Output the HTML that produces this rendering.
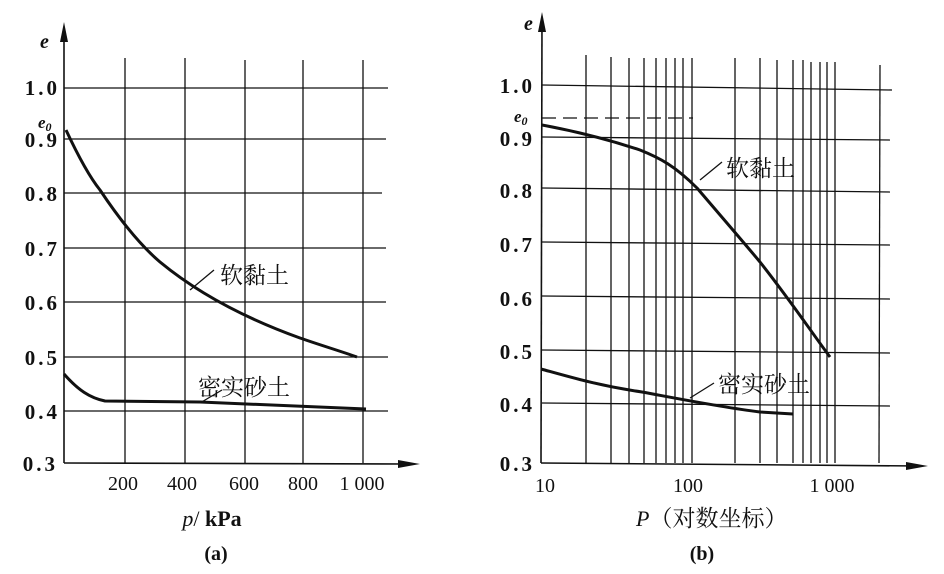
<!DOCTYPE html>
<html><head><meta charset="utf-8"><style>
html,body{margin:0;padding:0;background:#fff;}
svg text{font-family:"Liberation Serif","Noto Serif CJK SC",serif;fill:#111;}
.t{font-size:21px;font-weight:bold;letter-spacing:3px;}
.c{font-family:"Liberation Serif","Noto Serif CJK SC",serif;font-size:23px;font-weight:normal;}
</style></head><body>
<svg width="944" height="569" viewBox="0 0 944 569" xmlns="http://www.w3.org/2000/svg">
<g stroke="#111" stroke-width="1.3" fill="none">
<line x1="64" y1="88" x2="388" y2="88"/>
<line x1="64" y1="139" x2="386" y2="139"/>
<line x1="64" y1="193" x2="382" y2="193"/>
<line x1="64" y1="248" x2="386" y2="248"/>
<line x1="64" y1="302" x2="386" y2="302"/>
<line x1="64" y1="357" x2="388" y2="357"/>
<line x1="64" y1="411" x2="388" y2="411"/>
<line x1="125" y1="58" x2="125" y2="463"/>
<line x1="185" y1="58" x2="185" y2="463"/>
<line x1="245" y1="60" x2="245" y2="463"/>
<line x1="303" y1="60" x2="303" y2="463"/>
<line x1="363" y1="60" x2="363" y2="463"/>
<line x1="64" y1="28" x2="64" y2="463" stroke-width="1.6"/>
<line x1="64" y1="463" x2="412" y2="464" stroke-width="1.6"/>
</g>
<polygon points="64,22 60,42 68,42" fill="#111"/>
<polygon points="420,464 398,460 398,468" fill="#111"/>
<g stroke="#111" stroke-width="3" fill="none">
<path d="M66,130 C80,160 92,180 100,190 C120,220 140,245 160,262 C200,295 250,320 300,338 C320,345 340,351 357,357"/>
<path d="M64,374 C78,390 90,398 105,401 L200,402 L366,409"/>
</g>
<line x1="190" y1="290" x2="214" y2="270" stroke="#111" stroke-width="1.3"/>
<line x1="200" y1="403" x2="222" y2="390" stroke="#111" stroke-width="1.3"/>
<text x="220" y="283" class="c">软黏土</text>
<text x="198" y="395" class="c">密实砂土</text>
<g class="t" text-anchor="end">
<text x="60" y="95">1.0</text><text x="60" y="147">0.9</text><text x="60" y="201">0.8</text>
<text x="60" y="256">0.7</text><text x="60" y="310">0.6</text><text x="60" y="365">0.5</text>
<text x="60" y="419">0.4</text><text x="58" y="471">0.3</text>
</g>
<text x="40" y="48" font-style="italic" font-weight="bold" font-size="20">e</text>
<text x="38" y="128" font-style="italic" font-weight="bold" font-size="17">e<tspan font-size="12" dy="3">0</tspan></text>
<g text-anchor="middle" font-size="20">
<text x="123" y="490">200</text><text x="182" y="490">400</text><text x="244" y="490">600</text>
<text x="303" y="490">800</text><text x="362" y="490">1 000</text>
</g>
<text x="212" y="526" text-anchor="middle" font-size="22"><tspan font-style="italic">p</tspan>/ <tspan font-weight="bold">kPa</tspan></text>
<text x="216" y="560" text-anchor="middle" font-size="20" font-weight="bold">(a)</text>

<g stroke="#111" stroke-width="1.3" fill="none">
<line x1="542" y1="85" x2="892" y2="90"/>
<line x1="542" y1="137" x2="890" y2="140"/>
<line x1="542" y1="188" x2="890" y2="192"/>
<line x1="542" y1="242" x2="890" y2="245"/>
<line x1="542" y1="296" x2="890" y2="299"/>
<line x1="542" y1="350" x2="890" y2="353"/>
<line x1="542" y1="403" x2="890" y2="406"/>
<line x1="586" y1="55" x2="586" y2="463"/>
<line x1="611" y1="57" x2="611" y2="463"/>
<line x1="629" y1="58" x2="629" y2="463"/>
<line x1="644" y1="58" x2="644" y2="463"/>
<line x1="656" y1="58" x2="656" y2="463"/>
<line x1="666" y1="58" x2="666" y2="463"/>
<line x1="675" y1="58" x2="675" y2="463"/>
<line x1="683" y1="58" x2="683" y2="463"/>
<line x1="692" y1="58" x2="692" y2="463"/>
<line x1="735" y1="58" x2="735" y2="463"/>
<line x1="760" y1="58" x2="760" y2="463"/>
<line x1="777" y1="60" x2="777" y2="463"/>
<line x1="793" y1="60" x2="793" y2="463"/>
<line x1="803" y1="60" x2="803" y2="463"/>
<line x1="811" y1="62" x2="811" y2="463"/>
<line x1="820" y1="62" x2="820" y2="463"/>
<line x1="827" y1="62" x2="827" y2="463"/>
<line x1="835" y1="62" x2="835" y2="463"/>
<line x1="880" y1="65" x2="879" y2="463"/>
<line x1="542" y1="18" x2="541" y2="463" stroke-width="1.6"/>
<line x1="541" y1="463" x2="920" y2="466" stroke-width="1.6"/>
<path d="M542,118 L693,118" stroke-dasharray="14,7"/>
</g>
<polygon points="542,12 538,32 546,32" fill="#111"/>
<polygon points="928,466 906,462 906,470" fill="#111"/>
<g stroke="#111" stroke-width="3" fill="none">
<path d="M542,125 C580,132 610,140 640,150 C660,158 675,166 697,188 C720,215 740,238 760,262 C790,300 810,330 830,357"/>
<path d="M541,369 C570,377 600,386 642,392 C680,399 720,407 760,412 L793,414"/>
</g>
<line x1="700" y1="180" x2="722" y2="162" stroke="#111" stroke-width="1.3"/>
<line x1="690" y1="398" x2="714" y2="383" stroke="#111" stroke-width="1.3"/>
<text x="726" y="176" class="c">软黏土</text>
<text x="718" y="392" class="c">密实砂土</text>
<g class="t" text-anchor="end">
<text x="535" y="93">1.0</text><text x="535" y="146">0.9</text><text x="535" y="198">0.8</text>
<text x="535" y="252">0.7</text><text x="535" y="306">0.6</text><text x="535" y="359">0.5</text>
<text x="535" y="412">0.4</text><text x="535" y="471">0.3</text>
</g>
<text x="524" y="30" font-style="italic" font-weight="bold" font-size="20">e</text>
<text x="514" y="122" font-style="italic" font-weight="bold" font-size="17">e<tspan font-size="12" dy="3">0</tspan></text>
<g text-anchor="middle" font-size="20">
<text x="545" y="492">10</text><text x="688" y="492">100</text><text x="832" y="492">1 000</text>
</g>
<text x="636" y="526" font-size="22"><tspan font-style="italic">P</tspan><tspan class="c" font-size="21" font-weight="bold">（对数坐标）</tspan></text>
<text x="702" y="560" text-anchor="middle" font-size="20" font-weight="bold">(b)</text>
</svg>
</body></html>
